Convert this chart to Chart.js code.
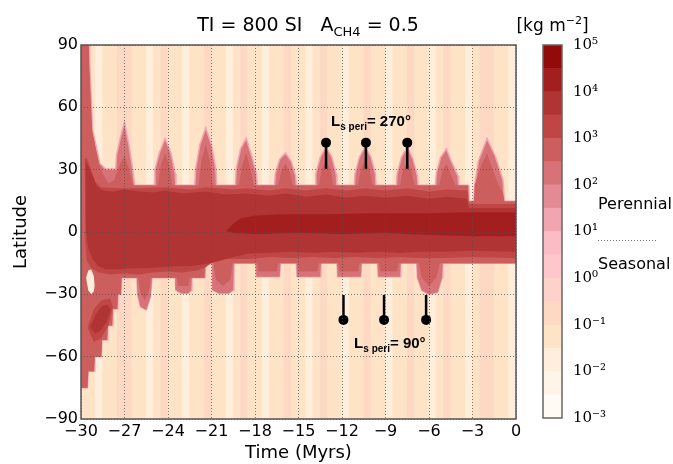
<!DOCTYPE html>
<html>
<head>
<meta charset="utf-8">
<script src="https://cdn.jsdelivr.net/npm/chart.js@4.4.0/dist/chart.umd.min.js"></script>
<style>
body{margin:0;background:#fff;}
#wrap{position:relative;width:673px;height:464px;overflow:hidden;}
#chart{position:absolute;left:0;top:0;}
#bar{position:absolute;left:500px;top:0;}
</style>
</head>
<body>
<div id="wrap">
<canvas id="chart" width="673" height="464"></canvas>
<canvas id="bar" width="173" height="464"></canvas>
</div>
<script>
// colour levels, log10 of kg m-2
const levelEdges = [-3,-2.5,-2,-1.5,-1,-0.5,0,0.5,1,1.5,2,2.5,3,3.5,4,4.5,5];
const levelColors = ['#fffaf3','#fef4e8','#feeedb','#fee3c6','#fdd9c3','#fdd2cb','#fdc7cb','#fbbcc6','#f0a5b1','#e48a94','#d77377','#cc5e5e','#c04646','#b03434','#a31f1f','#920a0a'];
const cbTicks = [-3,-2,-1,0,1,2,3,4,5];

const timeTicks = [-30,-27,-24,-21,-18,-15,-12,-9,-6,-3,0];
const latTicks = [-90,-60,-30,0,30,60,90];

// background stripes (time, level index)
const stripeTimes = [-29.75,-29.25,-28.75,-28.25,-27.75,-27.25,-26.75,-26.25,-25.75,-25.25,
  -24.75,-24.25,-23.75,-23.25,-22.75,-22.25,-21.75,-21.25,-20.75,-20.25,
  -19.75,-19.25,-18.75,-18.25,-17.75,-17.25,-16.75,-16.25,-15.75,-15.25,
  -14.75,-14.25,-13.75,-13.25,-12.75,-12.25,-11.75,-11.25,-10.75,-10.25,
  -9.75,-9.25,-8.75,-8.25,-7.75,-7.25,-6.75,-6.25,-5.75,-5.25,
  -4.75,-4.25,-3.75,-3.25,-2.75,-2.25,-1.75,-1.25,-0.75,-0.25];
const stripeLevel = [3,3,2,3,3,4,4,3,3,2,
  3,4,3,3,2,3,3,4,3,3,
  2,3,4,3,3,2,3,3,4,3,
  3,2,3,4,3,3,2,3,3,4,
  3,3,2,3,3,4,3,3,2,3,
  4,3,3,2,3,4,4,3,3,2];

// contour outlines [time, latitude]
const envTop = [[-30,90],[-29.43,90],[-29.4,81],[-29.3,65],[-29.2,49],[-28.9,39.5],[-28.7,33],[-28.3,30.3],[-27.6,30.3],
  [-27.55,37],[-27.3,45],[-27.0,53],[-26.7,42],[-26.45,31],[-26.3,22.5],
  [-24.95,22.5],[-24.9,30],[-24.6,38],[-24.2,45],[-23.8,38],[-23.5,28],[-23.45,22.5],
  [-22.15,22.5],[-22.1,30],[-21.8,42],[-21.4,50],[-21.0,42],[-20.7,30],[-20.65,22.5],
  [-19.35,22.5],[-19.3,30],[-19.0,40],[-18.6,45],[-18.2,36],[-17.9,28],[-17.85,22.5],
  [-16.65,22.5],[-16.6,28],[-16.3,35],[-15.9,38],[-15.5,34],[-15.2,27],[-15.15,22.5],
  [-13.85,22.5],[-13.8,28],[-13.5,36],[-13.1,41],[-12.7,36],[-12.4,28],[-12.35,22.5],
  [-11.15,22.5],[-11.1,28],[-10.8,36],[-10.4,41],[-10.0,36],[-9.7,28],[-9.65,22.5],
  [-8.25,22.5],[-8.2,28],[-7.9,36],[-7.5,41],[-7.1,35],[-6.8,27],[-6.75,22.5],
  [-5.55,22.5],[-5.5,28],[-5.2,36],[-4.8,40],[-4.4,33],[-4.0,27],[-3.95,22.5],
  [-3.3,22.5],[-3.25,14.8],[-2.9,14.8],[-2.85,22.5],[-2.6,34],[-2.0,45],[-1.4,36],[-0.9,25],[-0.8,14.8],[0,14.8]];
const envBot = [[-30,-75],[-29.55,-75],[-29.5,-67],[-29.1,-67],[-29.05,-60],[-28.6,-60],[-28.55,-52],[-28.2,-52],[-28.15,-45],[-27.85,-45],[-27.8,-37],[-27.5,-37],[-27.45,-30],[-27.25,-30],[-27.2,-22],
  [-26.15,-22],[-26.1,-30],[-25.9,-36],[-25.5,-37.5],[-25.2,-31],[-25.1,-22],
  [-23.5,-22],[-23.45,-28],[-23.1,-29.5],[-22.6,-29.5],[-22.4,-28],[-22.35,-22],
  [-21.45,-22],[-21.4,-15],[-20.95,-15],[-20.9,-28],[-20.5,-29.5],[-19.8,-29.5],[-19.5,-28],[-19.45,-15],
  [-17.95,-15],[-17.9,-21.5],[-16.3,-21.5],[-16.25,-15],
  [-15.15,-15],[-15.1,-21.5],[-13.5,-21.5],[-13.45,-15],
  [-12.35,-15],[-12.3,-21.5],[-10.7,-21.5],[-10.65,-15],
  [-9.55,-15],[-9.5,-21.5],[-8.0,-21.5],[-7.95,-15],
  [-6.85,-15],[-6.8,-22],[-6.5,-28],[-6.0,-30],[-5.4,-29],[-5.1,-22],[-5.05,-15],
  [0,-15]];
const coreTop = [[-30,90],[-29.46,90],[-29.43,81],[-29.33,65],[-29.23,49],[-28.95,39],[-28.75,33],[-28.5,28],[-28.1,23.5],[-27.7,25],[-27.4,31],[-27.0,37],[-26.6,28],[-26.4,22.5],
  [-24.7,22.5],[-24.5,32],[-24.2,38],[-23.9,32],[-23.7,22.5],
  [-21.9,22.5],[-21.7,34],[-21.4,42],[-21.1,34],[-20.9,22.5],
  [-19.1,22.5],[-18.9,32],[-18.6,38],[-18.3,30],[-18.1,22.5],
  [-16.4,22.5],[-16.2,29],[-15.9,33],[-15.6,29],[-15.4,22.5],
  [-13.6,22.5],[-13.4,30],[-13.1,35],[-12.8,30],[-12.6,22.5],
  [-10.9,22.5],[-10.7,30],[-10.4,35],[-10.1,30],[-9.9,22.5],
  [-8.0,22.5],[-7.8,30],[-7.5,34],[-7.2,29],[-7.0,22.5],
  [-5.3,22.5],[-5.1,29],[-4.8,33],[-4.5,28],[-4.2,22.5],
  [-3.3,22.5],[-3.25,14.8],[-2.9,14.8],[-2.85,22.5],[-2.4,32],[-2.0,38],[-1.6,30],[-1.2,22.5],[-0.9,19],[-0.8,14.8],[0,14.8]];
const coreBot = [[-30,-75],[-29.55,-75],[-29.5,-67],[-29.1,-67],[-29.05,-60],[-28.6,-60],[-28.55,-52],[-28.2,-52],[-28.15,-45],[-27.85,-45],[-27.8,-37],[-27.5,-37],[-27.45,-30],[-27.25,-30],[-27.2,-22],
  [-26.05,-22],[-25.9,-29],[-25.6,-33],[-25.3,-28],[-25.2,-22],
  [-23.4,-22],[-23.3,-26],[-22.6,-26],[-22.5,-22],
  [-21.5,-22],[-21.45,-15],[-20.85,-15],[-20.7,-23],[-20.2,-26],[-19.7,-23],[-19.55,-15],
  [-17.85,-15],[-17.75,-19],[-16.5,-19],[-16.4,-15],
  [-15.05,-15],[-14.95,-19],[-13.7,-19],[-13.6,-15],
  [-12.25,-15],[-12.15,-19],[-10.9,-19],[-10.8,-15],
  [-9.45,-15],[-9.35,-19],[-8.2,-19],[-8.1,-15],
  [-6.7,-15],[-6.5,-22],[-6.0,-26],[-5.5,-22],[-5.25,-15],
  [0,-15]];
const bandTop = [[-29.75,36],[-29.55,35],[-29.3,30],[-29.0,24],[-28.6,21.5],[-27.5,21],[-26,21],[-24.2,21.5],[-22.5,20.5],[-21.4,21.5],[-19.5,20.5],[-18.6,21],[-17,20],[-15.9,21],[-14.5,20],[-13.1,21],[-11.7,20],[-10.4,21],[-9,20],[-7.5,21],[-6,19.5],[-4.8,20.5],[-3.35,20],[-3.25,13.5],[0,13.5]];
const bandBot = [[-29.75,36],[-29.7,-5],[-29.6,-14],[-29.3,-17.5],[-28.8,-19.5],[-28,-20.5],[-27,-20],[-26,-20.5],[-25,-19.5],[-24,-19],[-23,-19.5],[-22,-18.5],[-21.4,-17],[-20.8,-14],[-20,-13],[-18.5,-13],[-17,-12],[-15.5,-12.5],[-14,-12],[-12.5,-12.5],[-11,-12],[-9.5,-12.5],[-8,-12],[-6.5,-12.5],[-5,-12.5],[-3,-12],[0,-12.5]];
const innerTop = [[-29.7,34],[-29.5,32],[-29.2,27],[-28.9,22],[-28.5,20],[-27.8,19.5],[-27.0,20.5],[-26.0,19.5],[-25.0,19],[-24.2,20],[-23.0,18.5],[-21.4,19.5],[-20.0,18],[-18.6,18.5],[-17.0,17.5],[-15.9,18.5],[-14.5,17],[-13.1,18],[-11.7,16.5],[-10.4,17.5],[-9.0,16.5],[-7.5,17.5],[-6.0,16],[-4.8,17],[-3.4,16],[-3.25,11.5],[0,11.5]];
const innerBot = [[-29.7,34],[-29.65,0],[-29.5,-8],[-29.2,-13],[-28.8,-16.5],[-28.3,-18],[-27.5,-18],[-26.5,-17.5],[-25.5,-17.5],[-24.5,-17],[-23.5,-16.5],[-22.5,-16.5],[-21.5,-15.5],[-20.5,-14],[-19.5,-12],[-18.5,-10.5],[-17,-10],[-15.5,-9.5],[-14,-10],[-12.5,-9.5],[-11,-10],[-9.5,-9.5],[-8,-10],[-6.5,-9.5],[-5,-9.5],[-3,-9],[0,-9.5]];
const darkTop = [[-20,0.5],[-19.5,4],[-19,6.5],[-18,8],[-16,8.5],[-13,8.5],[-10,9],[-6,9],[-3,9.5],[0,9.5]];
const darkBot = [[-20,0.5],[-19.5,-0.5],[-18,-1],[-15,-0.5],[-12,-1],[-9,-0.5],[-6,-1.5],[-3,-2],[0,-2]];
const haloTop = [[-29.55,-46],[-29.1,-37],[-28.6,-33],[-28,-32],[-27.8,-36]];
const haloBot = [[-29.55,-46],[-29.1,-53],[-28.6,-51],[-28.1,-45],[-27.8,-36]];
const blobTop = [[-29.4,-46],[-29.0,-40],[-28.6,-36],[-28.2,-35],[-27.95,-37]];
const blobBot = [[-29.4,-46],[-29.0,-49],[-28.6,-47],[-28.2,-43],[-27.95,-37]];
const holeTop = [[-29.65,-22],[-29.5,-18.5],[-29.3,-18],[-29.12,-21],[-29.05,-26]];
const holeBot = [[-29.65,-22],[-29.5,-28],[-29.3,-30],[-29.12,-28.5],[-29.05,-26]];

// perihelion markers
const periNTimes = [-13.1,-10.35,-7.5];
const periSTimes = [-11.9,-9.1,-6.2];
const periNLat = [43,30.5];
const periSLat = [-42.3,-30.3];
const periText = ['270°','90°'];
const periTextTime = [-10.0,-8.7];
const periTextLat = [50.8,-55.6];

Chart.defaults.font.family = 'DejaVu Sans';
Chart.defaults.color = '#000';

function pts(arr){
  return arr.map(p => ({x: p[0], y: p[1]}));
}

const datasets = [];
let order = 100;
datasets.push({
  type: 'bar',
  data: stripeTimes.map(t => ({x: t, y: [-90, 90]})),
  backgroundColor: stripeLevel.map(i => levelColors[i]),
  barPercentage: 1,
  categoryPercentage: 1,
  borderWidth: 0,
  order: order
});
function addBand(top, bot, color, rim){
  order--;
  datasets.push({
    type: 'line', data: pts(top), fill: '+1', backgroundColor: color,
    borderColor: rim || 'transparent', borderWidth: rim ? 1.5 : 0, order: order
  });
  datasets.push({
    type: 'line', data: pts(bot), fill: false,
    borderColor: rim || 'transparent', borderWidth: rim ? 1.5 : 0, order: order
  });
}
addBand(envTop, envBot, levelColors[10], levelColors[8]);
addBand(coreTop, coreBot, levelColors[11]);
addBand(haloTop, haloBot, levelColors[12]);
addBand(bandTop, bandBot, levelColors[12]);
addBand(holeTop, holeBot, levelColors[2]);
addBand(innerTop, innerBot, levelColors[13]);
addBand(blobTop, blobBot, levelColors[13]);
addBand(darkTop, darkBot, levelColors[14]);

periNTimes.forEach(t => {
  datasets.push({type: 'line', data: [{x: t, y: periNLat[0]}, {x: t, y: periNLat[1]}], borderColor: '#000', borderWidth: 2.5, order: 10});
});
periSTimes.forEach(t => {
  datasets.push({type: 'line', data: [{x: t, y: periSLat[0]}, {x: t, y: periSLat[1]}], borderColor: '#000', borderWidth: 2.5, order: 10});
});
datasets.push({
  type: 'scatter',
  data: periNTimes.map(t => ({x: t, y: periNLat[0]})).concat(periSTimes.map(t => ({x: t, y: periSLat[0]}))),
  pointRadius: 5, backgroundColor: '#000', borderWidth: 0, order: 5
});

function drawParts(ctx, parts, x, y, align){
  let w = 0;
  parts.forEach(p => { ctx.font = p.font; w += ctx.measureText(p.text).width; });
  let cx = align === 'center' ? x - w / 2 : x;
  ctx.textAlign = 'left';
  ctx.textBaseline = 'alphabetic';
  parts.forEach(p => {
    ctx.font = p.font;
    ctx.fillText(p.text, cx, y + (p.dy || 0));
    cx += ctx.measureText(p.text).width;
  });
}

const mainText = {
  id: 'mainText',
  afterDraw(chart){
    const ctx = chart.ctx;
    const xs = chart.scales.x, ys = chart.scales.y;
    const a = chart.chartArea;
    ctx.save();
    ctx.strokeStyle = '#555';
    ctx.lineWidth = 1.5;
    ctx.strokeRect(a.left, a.top, a.right - a.left, a.bottom - a.top);
    ctx.fillStyle = '#000';
    drawParts(ctx, [
      {text: 'TI = 800 SI   A', font: '19px DejaVu Sans'},
      {text: 'CH4', font: '13px DejaVu Sans', dy: 5},
      {text: ' = 0.5', font: '19px DejaVu Sans'}
    ], 308, 31, 'center');
    periText.forEach((s, i) => {
      drawParts(ctx, [
        {text: 'L', font: 'bold 15px Liberation Sans'},
        {text: 's peri', font: 'bold 10px Liberation Sans', dy: 4},
        {text: '= ' + s, font: 'bold 15px Liberation Sans'}
      ], xs.getPixelForValue(periTextTime[i]), ys.getPixelForValue(periTextLat[i]), 'center');
    });
    ctx.restore();
  }
};

function minus(v){
  return v < 0 ? '\u2212' + Math.abs(v) : String(v);
}

new Chart(document.getElementById('chart'), {
  type: 'line',
  data: {datasets: datasets},
  options: {
    responsive: false,
    animation: false,
    layout: {padding: {left: 0, right: 157, top: 45, bottom: 0}},
    elements: {point: {radius: 0}, line: {tension: 0}},
    plugins: {legend: {display: false}, tooltip: {enabled: false}},
    scales: {
      x: {
        type: 'linear', min: -30, max: 0, offset: false,
        afterBuildTicks: s => { s.ticks = timeTicks.map(v => ({value: v})); },
        afterFit: s => { s.height = 45; },
        ticks: {font: {size: 16}, color: '#000', padding: 3, callback: minus, maxRotation: 0},
        grid: {color: 'rgba(80,80,80,0.75)', lineWidth: 1, drawTicks: false, offset: false, z: 1},
        border: {display: false, dash: [1, 2]},
        title: {display: true, text: 'Time (Myrs)', font: {size: 18}, color: '#000', padding: {top: 0, bottom: 0}}
      },
      y: {
        type: 'linear', min: -90, max: 90,
        afterBuildTicks: s => { s.ticks = latTicks.map(v => ({value: v})); },
        afterFit: s => { s.width = 81; },
        ticks: {font: {size: 16}, color: '#000', padding: 3, callback: minus},
        grid: {color: 'rgba(80,80,80,0.75)', lineWidth: 1, drawTicks: false, z: 1},
        border: {display: false, dash: [1, 2]},
        title: {display: true, text: 'Latitude', font: {size: 18}, color: '#000', padding: {top: 11, bottom: 0}}
      }
    }
  },
  plugins: [mainText]
});

// colour bar
const supMap = {'0':'\u2070','1':'\u00b9','2':'\u00b2','3':'\u00b3','4':'\u2074','5':'\u2075','6':'\u2076','7':'\u2077','8':'\u2078','9':'\u2079','-':'\u207b'};
function power(v){
  return '10' + String(v).split('').map(c => supMap[c]).join('');
}

const barText = {
  id: 'barText',
  afterDraw(chart){
    const ctx = chart.ctx;
    const a = chart.chartArea;
    ctx.save();
    ctx.strokeStyle = '#666';
    ctx.lineWidth = 1.5;
    ctx.strokeRect(a.left, a.top, a.right - a.left, a.bottom - a.top);
    ctx.fillStyle = '#000';
    drawParts(ctx, [
      {text: '[kg m', font: '17px DejaVu Sans'},
      {text: '\u22122', font: '11px DejaVu Sans', dy: -7},
      {text: ']', font: '17px DejaVu Sans'}
    ], (a.left + a.right) / 2, 31, 'center');
    ctx.font = '16px DejaVu Sans';
    ctx.textBaseline = 'middle';
    ctx.fillText('Perennial', 98, 205);
    ctx.fillText('Seasonal', 98, 265);
    ctx.strokeStyle = '#777';
    ctx.lineWidth = 1;
    ctx.setLineDash([1, 2]);
    ctx.beginPath();
    ctx.moveTo(98, 240.5);
    ctx.lineTo(158, 240.5);
    ctx.stroke();
    ctx.restore();
  }
};

new Chart(document.getElementById('bar'), {
  type: 'bar',
  data: {
    labels: [''],
    datasets: levelColors.map((c, i) => ({
      data: [[levelEdges[i], levelEdges[i + 1]]],
      backgroundColor: c,
      borderWidth: 0,
      barPercentage: 1,
      categoryPercentage: 1,
      grouped: false
    }))
  },
  options: {
    responsive: false,
    animation: false,
    layout: {padding: {left: 43, right: 0, top: 45, bottom: 46}},
    plugins: {legend: {display: false}, tooltip: {enabled: false}},
    scales: {
      x: {display: false},
      y: {
        position: 'right', min: -3, max: 5,
        afterBuildTicks: s => { s.ticks = cbTicks.map(v => ({value: v})); },
        afterFit: s => { s.width = 111; },
        ticks: {font: {family: 'DejaVu Serif', size: 15}, color: '#000', padding: 3, callback: power},
        grid: {display: false},
        border: {display: false}
      }
    }
  },
  plugins: [barText]
});
</script>
</body>
</html>
